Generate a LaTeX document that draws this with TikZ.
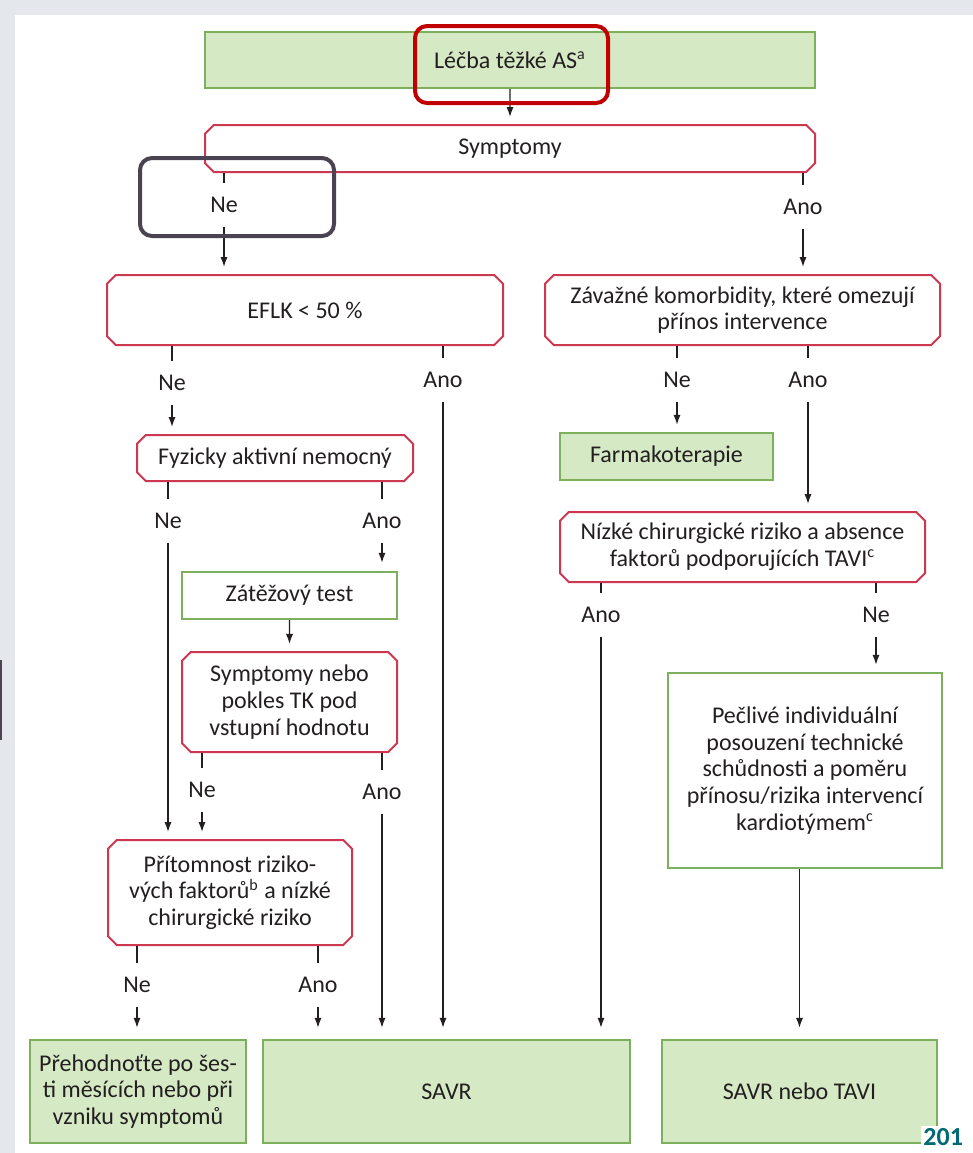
\documentclass[tikz,border=0pt]{standalone}
\usepackage{fontspec}
\setmainfont{Carlito}
\usetikzlibrary{arrows.meta, shapes.misc}
\definecolor{boxgreen}{RGB}{213,233,196}
\definecolor{framegreen}{RGB}{125,176,92}
\definecolor{decred}{RGB}{205,55,80}
\definecolor{hlred}{RGB}{192,0,0}
\definecolor{hlgrey}{RGB}{74,68,82}
\definecolor{pagegrey}{RGB}{228,231,235}
\definecolor{txt}{RGB}{35,31,32}
\definecolor{yearteal}{RGB}{0,105,115}
\tikzset{>={Latex[length=5pt,width=3.6pt]}}
\tikzset{
  every node/.style={font=\fontsize{12}{13.3}\selectfont, text=txt},
  greenbox/.style={draw=framegreen, fill=boxgreen, line width=1.2pt, inner sep=0pt, align=center},
  greenframe/.style={draw=framegreen, fill=white, line width=1.2pt, inner sep=0pt, align=center},
  decision/.style={chamfered rectangle, chamfered rectangle xsep=2.2pt, chamfered rectangle ysep=2.2pt,
    draw=decred, fill=white, line width=1pt, inner sep=0pt, align=center},
  answer/.style={inner sep=0pt, outer sep=7pt},
  link/.style={line width=0.7pt, draw=txt},
}

\begin{document}
\begin{tikzpicture}[x=0.5pt, y=-0.5pt]
\useasboundingbox (0,0) rectangle (973,1153);
\fill[pagegrey] (0,0) rectangle (973,1153);
\fill[white] (15,15) rectangle (973,1153);
\fill[hlgrey] (0,660) rectangle (2,740);

% boxes
\node[greenbox, minimum width=305pt, minimum height=28pt] (top) at (510,60) {Léčba těžké AS\textsuperscript{a}};
\node[decision, minimum width=305pt, minimum height=23.5pt] (sympt) at (510,148.5) {Symptomy};
\node[decision, minimum width=198pt, minimum height=35pt] (eflk) at (305,310) {EFLK < 50 \%};
\node[decision, minimum width=197.5pt, minimum height=35pt] (zav) at (742.5,310) {Závažné komorbidity, které omezují\\přínos intervence};
\node[decision, minimum width=138pt, minimum height=23pt] (fyz) at (275,458) {Fyzicky aktivní nemocný};
\node[greenbox, minimum width=106.5pt, minimum height=23.5pt] (farm) at (666.5,456.5) {Farmakoterapie};
\node[greenframe, minimum width=107.5pt, minimum height=23.5pt] (zat) at (289.5,595.5) {Zátěžový test};
\node[decision, minimum width=107.5pt, minimum height=50pt] (sympt2) at (289.5,702) {Symptomy nebo\\pokles TK pod\\vstupní hodnotu};
\node[decision, minimum width=122pt, minimum height=52.5pt] (prit) at (230,892.5) {Přítomnost riziko-\\vých faktorů\textsuperscript{b} a nízké\\chirurgické riziko};
\node[decision, minimum width=182.5pt, minimum height=35pt] (nizke) at (742.5,547) {Nízké chirurgické riziko a absence\\faktorů podporujících TAVI\textsuperscript{c}};
\node[greenframe, minimum width=137pt, minimum height=97.5pt] (pecl) at (805,770.5) {Pečlivé individuální\\posouzení technické\\schůdnosti a poměru\\přínosu/rizika intervencí\\kardiotýmem\textsuperscript{c}};
\node[greenbox, minimum width=108pt, minimum height=51.5pt] (preh) at (138,1091.5) {Přehodnoťte po šes-\\ti měsících nebo při\\vzniku symptomů};
\node[greenbox, minimum width=183.5pt, minimum height=51.5pt] (savr) at (446.5,1091.5) {SAVR};
\node[greenbox, minimum width=137.5pt, minimum height=51.5pt] (savrtavi) at (799.5,1091.5) {SAVR nebo TAVI};

% answers
\node[answer] (neA) at (224,205) {Ne};
\node[answer] (anoA) at (803,207) {Ano};
\node[answer] (neB) at (172,383) {Ne};
\node[answer] (anoB) at (443,380) {Ano};
\node[answer] (neC) at (677,380) {Ne};
\node[answer] (anoC) at (808,380) {Ano};
\node[answer] (neD) at (168,521) {Ne};
\node[answer] (anoD) at (382,521) {Ano};
\node[answer] (neE) at (202,790) {Ne};
\node[answer] (anoE) at (382,792) {Ano};
\node[answer] (neF) at (137,985) {Ne};
\node[answer] (anoF) at (318,985) {Ano};
\node[answer] (anoG) at (601,615) {Ano};
\node[answer] (neG) at (876,615) {Ne};

% connectors
\draw[link, ->, shorten >=3.5pt] (top) -- (sympt);
\draw[link] (sympt.south -| neA) -- (neA);
\draw[link, ->, shorten >=3.5pt] (neA) -- (eflk.north -| neA);
\draw[link] (sympt.south -| anoA) -- (anoA);
\draw[link, ->, shorten >=3.5pt] (anoA) -- (zav.north -| anoA);
\draw[link] (eflk.south -| neB) -- (neB);
\draw[link, ->, shorten >=3.5pt] (neB) -- (fyz.north -| neB);
\draw[link] (eflk.south -| anoB) -- (anoB);
\draw[link, ->, shorten >=5.5pt] (anoB) -- (savr.north -| anoB);
\draw[link] (zav.south -| neC) -- (neC);
\draw[link, ->, shorten >=3.5pt] (neC) -- (farm.north -| neC);
\draw[link] (zav.south -| anoC) -- (anoC);
\draw[link, ->, shorten >=3.5pt] (anoC) -- (nizke.north -| anoC);
\draw[link] (fyz.south -| neD) -- (neD);
\draw[link, ->, shorten >=3.5pt] (neD) -- (prit.north -| neD);
\draw[link] (fyz.south -| anoD) -- (anoD);
\draw[link, ->, shorten >=4pt] (anoD) -- (zat.north -| anoD);
\draw[link, ->, shorten >=3.5pt] (zat) -- (sympt2);
\draw[link] (sympt2.south -| neE) -- (neE);
\draw[link, ->, shorten >=3.5pt] (neE) -- (prit.north -| neE);
\draw[link] (sympt2.south -| anoE) -- (anoE);
\draw[link, ->, shorten >=5.5pt] (anoE) -- (savr.north -| anoE);
\draw[link] (prit.south -| neF) -- (neF);
\draw[link, ->, shorten >=5.5pt] (neF) -- (preh.north -| neF);
\draw[link] (prit.south -| anoF) -- (anoF);
\draw[link, ->, shorten >=5.5pt] (anoF) -- (savr.north -| anoF);
\draw[link] (nizke.south -| anoG) -- (anoG);
\draw[link, ->, shorten >=5.5pt] (anoG) -- (savr.north -| anoG);
\draw[link] (nizke.south -| neG) -- (neG);
\draw[link, ->, shorten >=3.5pt] (neG) -- (pecl.north -| neG);
\draw[link, ->, shorten >=5.5pt] (pecl.south -| savrtavi) -- (savrtavi);

% highlights
\draw[hlred, line width=2pt, rounded corners=6pt] (415,26) rectangle (608,103);
\draw[hlgrey, line width=2pt, rounded corners=6pt] (140,158) rectangle (334,236);
\node[anchor=north west, fill=white, inner sep=1pt, text=yearteal,
  font=\fontsize{13}{13}\selectfont\bfseries] (year) at (921,1126) {201};
\end{tikzpicture}
\end{document}
